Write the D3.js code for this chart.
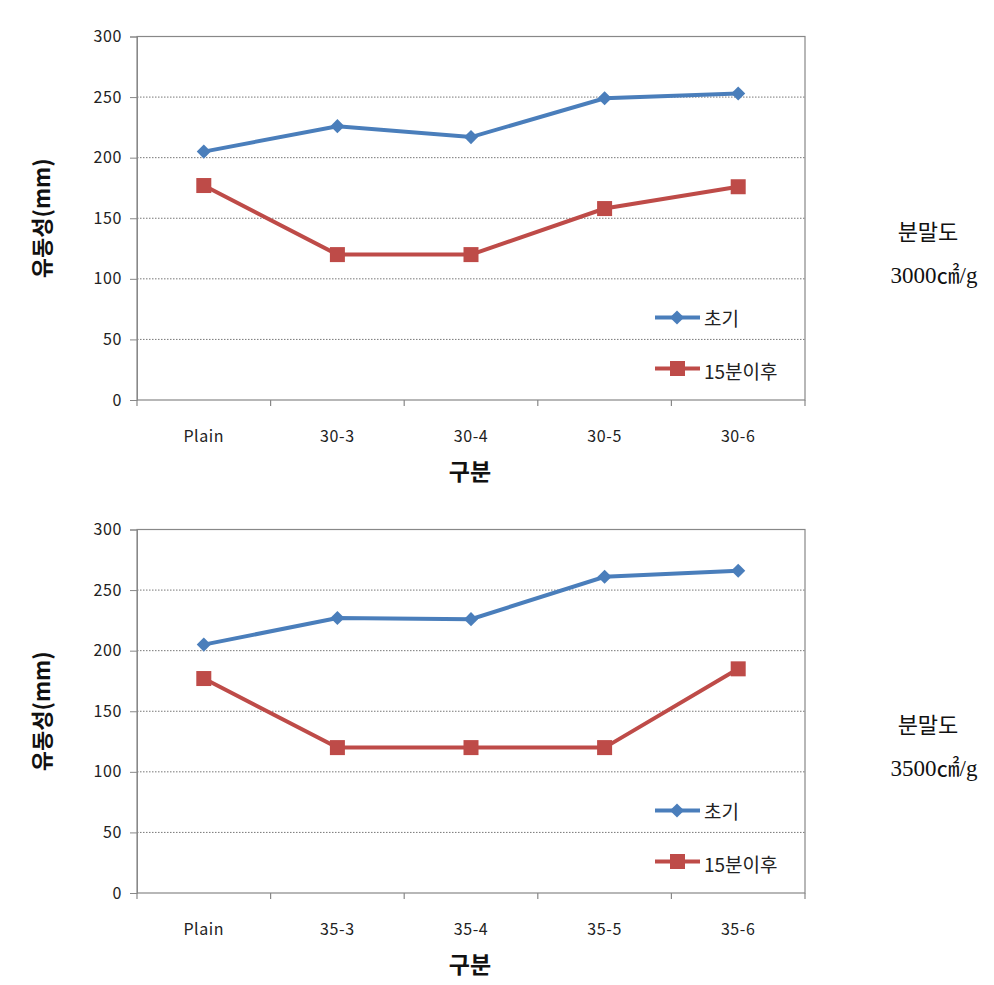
<!DOCTYPE html>
<html><head><meta charset="utf-8">
<script src="https://cdn.jsdelivr.net/npm/d3@7"></script>
<style>body{margin:0;background:#fff}</style>
</head><body>
<svg id="c" width="994" height="985"></svg>
<script>
const categoriesTop = ["Plain","30-3","30-4","30-5","30-6"];
const categoriesBottom = ["Plain","35-3","35-4","35-5","35-6"];
const initialTop = [205,226,217,249,253];
const after15Top = [177,120,120,158,176];
const initialBottom = [205,227,226,261,266];
const after15Bottom = [177,120,120,120,185];
const yTicks = [0,50,100,150,200,250,300];
const seriesNames = ["초기","15분이후"];
const fineness = ["3000㎠/g","3500㎠/g"];

const svg = d3.select("#c");
const font = "'Noto Sans CJK KR', 'Noto Sans', sans-serif";
const serif = "'Liberation Serif', 'Noto Sans CJK KR', serif";

function panel(offY, cats, s1, s2, fineLabel) {
  const L=137, R=805, T=36.5+offY, B=400+offY;
  const g = svg.append("g");
  const x = d3.scaleBand().domain(cats).range([L,R]);
  const y = d3.scaleLinear().domain([0,300]).range([B,T]);
  g.selectAll(".grid").data(yTicks.filter(d=>d>0&&d<300)).join("line")
    .attr("x1",L).attr("x2",R).attr("y1",d=>y(d)).attr("y2",d=>y(d))
    .attr("stroke","#777").attr("stroke-width",1).attr("stroke-dasharray","1.5,1.5");
  g.append("rect").attr("x",L).attr("y",T).attr("width",R-L).attr("height",B-T)
    .attr("fill","none").attr("stroke","#888").attr("stroke-width",1.2);
  const ya = g.append("g").attr("transform",`translate(${L},0)`)
    .call(d3.axisLeft(y).tickValues(yTicks).tickSize(7).tickPadding(8));
  ya.select(".domain").attr("stroke","#888");
  ya.selectAll("line").attr("stroke","#888");
  ya.selectAll("text").attr("font-family",font).attr("font-size",16).attr("letter-spacing","0.6px").attr("fill","#222");
  const bounds = cats.map(c=>x(c)).concat([R]);
  g.selectAll(".xt").data(bounds).join("line")
    .attr("x1",d=>d).attr("x2",d=>d).attr("y1",B).attr("y2",B+6)
    .attr("stroke","#888").attr("stroke-width",1.2);
  g.selectAll(".xl").data(cats).join("text")
    .attr("x",d=>x(d)+x.bandwidth()/2).attr("y",B+42)
    .attr("text-anchor","middle").attr("font-family",font).attr("font-size",16).attr("letter-spacing","0.6px").attr("fill","#222")
    .text(d=>d);
  g.append("text").attr("x",470).attr("y",B+80).attr("text-anchor","middle")
    .attr("font-family",font).attr("font-weight","bold").attr("font-size",23).attr("fill","#111").text("구분");
  g.append("text").attr("transform",`translate(50,${(T+B)/2}) rotate(-90)`).attr("text-anchor","middle")
    .attr("font-family",font).attr("font-weight","bold").attr("font-size",22).attr("fill","#111").text("유동성(mm)");
  const cx = d=>x(d)+x.bandwidth()/2;
  const line = d3.line().x(d=>cx(d.c)).y(d=>y(d.v));
  const d1 = cats.map((c,i)=>({c,v:s1[i]})), d2 = cats.map((c,i)=>({c,v:s2[i]}));
  const blue="#4a7ebb", red="#be4b48";
  g.append("path").datum(d1).attr("d",line).attr("fill","none").attr("stroke",blue).attr("stroke-width",4);
  g.append("path").datum(d2).attr("d",line).attr("fill","none").attr("stroke",red).attr("stroke-width",4);
  const dia = d3.symbol().type(d3.symbolSquare).size(100);
  g.selectAll(".m1").data(d1).join("path").attr("d",dia)
    .attr("transform",d=>`translate(${cx(d.c)},${y(d.v)}) rotate(45)`).attr("fill",blue);
  g.selectAll(".m2").data(d2).join("rect")
    .attr("x",d=>cx(d.c)-7.5).attr("y",d=>y(d.v)-7.5).attr("width",15).attr("height",15).attr("fill",red);
  const lg = [{n:seriesNames[0],c:blue,t:"d",yy:T+281},{n:seriesNames[1],c:red,t:"s",yy:T+332}];
  lg.forEach(o=>{
    g.append("line").attr("x1",655).attr("x2",700).attr("y1",o.yy).attr("y2",o.yy).attr("stroke",o.c).attr("stroke-width",4);
    if(o.t==="d") g.append("path").attr("d",dia).attr("transform",`translate(677,${o.yy}) rotate(45)`).attr("fill",o.c);
    else g.append("rect").attr("x",670).attr("y",o.yy-7.5).attr("width",15).attr("height",15).attr("fill",o.c);
    g.append("text").attr("x",704).attr("y",o.yy+(o.t==="d"?8:10)).attr("font-family",font).attr("font-size",19).attr("fill","#222").text(o.n);
  });
  g.append("text").attr("x",928).attr("y",T+203).attr("text-anchor","middle")
    .attr("font-family",serif).attr("font-size",22).attr("fill","#111").text("분말도");
  g.append("text").attr("x",934).attr("y",T+246).attr("text-anchor","middle")
    .attr("font-family",serif).attr("font-size",23).attr("fill","#111").text(fineLabel);
}
panel(0, categoriesTop, initialTop, after15Top, fineness[0]);
panel(493, categoriesBottom, initialBottom, after15Bottom, fineness[1]);
</script>
</body></html>
